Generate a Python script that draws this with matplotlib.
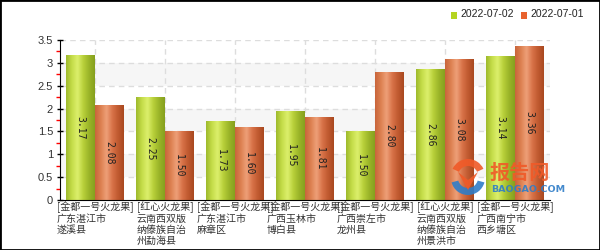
import matplotlib
matplotlib.use("Agg")
import matplotlib.pyplot as plt
import numpy as np
from matplotlib.colors import LinearSegmentedColormap
from matplotlib.patches import Rectangle, Wedge, Polygon

plt.rcParams['font.family'] = ['Noto Sans CJK SC', 'DejaVu Sans']

categories = [
    "[金都一号火龙果]\n广东湛江市\n遂溪县",
    "[红心火龙果]\n云南西双版\n纳傣族自治\n州勐海县",
    "[金都一号火龙果]\n广东湛江市\n麻章区",
    "[金都一号火龙果]\n广西玉林市\n博白县",
    "[金都一号火龙果]\n广西崇左市\n龙州县",
    "[红心火龙果]\n云南西双版\n纳傣族自治\n州景洪市",
    "[金都一号火龙果]\n广西南宁市\n西乡塘区",
]
series_names = ["2022-07-02", "2022-07-01"]
values_0702 = [3.17, 2.25, 1.73, 1.95, 1.50, 2.86, 3.14]
values_0701 = [2.08, 1.50, 1.60, 1.81, 2.80, 3.08, 3.36]
y_ticks = [0, 0.5, 1, 1.5, 2, 2.5, 3, 3.5]
y_tick_labels = ["0", "0.5", "1", "1.5", "2", "2.5", "3", "3.5"]

green_cmap = LinearSegmentedColormap.from_list(
    "g", ["#9db82c", "#c4dc48", "#dcef6c", "#b8d03a", "#9ab428", "#86a01e"])
orange_cmap = LinearSegmentedColormap.from_list(
    "o", ["#c8643a", "#dc8050", "#eea078", "#d87248", "#c05a30", "#a8481f"])

fig = plt.figure(figsize=(6, 2.5), dpi=100)
ax = fig.add_axes([0.1, 0.2, 0.8167, 0.64])

n = len(categories)
x = np.arange(n)
w = 0.41

ax.set_xlim(-0.5, n - 0.5)
ax.set_ylim(0, 3.5)

# alternating bands
for lo in [0.5, 1.5, 2.5]:
    ax.axhspan(lo, lo + 0.5, color="#f6f6f6", zorder=0, lw=0)
for yt in y_ticks[1:]:
    ax.axhline(yt, color="#dddddd", lw=1, ls=(0, (4, 3)), zorder=0.5)
for xi in x:
    ax.axvline(xi, color="#dddddd", lw=1, ls=(0, (4, 3)), zorder=0.5)

grad = np.linspace(0, 1, 256).reshape(1, -1)
for vals, off, cmap in [(values_0702, -w / 2, green_cmap), (values_0701, w / 2, orange_cmap)]:
    bars = ax.bar(x + off, vals, width=w, color="none", lw=0, zorder=2)
    for b, v in zip(bars, vals):
        x0 = b.get_x()
        im = ax.imshow(grad, extent=[x0, x0 + b.get_width(), 0, v], aspect="auto",
                       cmap=cmap, zorder=2, interpolation="bicubic")
        im.set_clip_path(b)
        ax.text(x0 + b.get_width() / 2, v / 2, f"{v:.2f}", rotation=270,
                ha="center", va="center", fontsize=7, color="#222222",
                family="DejaVu Sans Mono", zorder=3)

ax.set_xticks(x)
ax.set_xticklabels(categories, fontsize=7.2, color="#333333", linespacing=1.1,
                   ha="center", multialignment="left")
ax.tick_params(axis="x", length=0, pad=1)
ax.set_yticks(y_ticks)
ax.set_yticklabels(y_tick_labels, fontsize=8, color="#333333", family="Liberation Sans")
ax.tick_params(axis="y", direction="inout", length=4, width=1, color="black", pad=3)
ax.set_yticks(np.arange(0.25, 3.5, 0.5), minor=True)
ax.tick_params(axis="y", which="minor", direction="out", length=3, color="red", width=1)

for s in ["top", "right"]:
    ax.spines[s].set_visible(False)
ax.spines["left"].set_color("black")
ax.spines["bottom"].set_color("black")

# legend
fig.patches.append(Rectangle((451 / 600, 1 - 18.5 / 250), 6 / 600, 6 / 250, transform=fig.transFigure,
                             facecolor="#b5d421", edgecolor="none"))
fig.text(460 / 600, 1 - 14 / 250, series_names[0], fontsize=7.5, va="center", ha="left",
         family="Liberation Sans", color="#222222")
fig.patches.append(Rectangle((521 / 600, 1 - 18.5 / 250), 6 / 600, 6 / 250, transform=fig.transFigure,
                             facecolor="#e8622e", edgecolor="none"))
fig.text(530 / 600, 1 - 14 / 250, series_names[1], fontsize=7.5, va="center", ha="left",
         family="Liberation Sans", color="#222222")

# watermark
fig.text(520 / 600, 1 - 172 / 250, "报告网", fontsize=14.5, color="#f05a28", alpha=0.9, ha="center",
         va="center", weight="bold")
fig.text(528 / 600, 1 - 189 / 250, "BAOGAO.COM", fontsize=6.8, color="#2f7dc8", alpha=0.9, ha="center",
         va="center", family="DejaVu Sans", weight="bold")
cx, cy = 468 / 600, 1 - 178 / 250
fig.patches.append(Wedge((468, 250 - 176), 17, 25, 155, width=7, facecolor="#f05a28",
                         edgecolor="none", alpha=0.9, transform=None))
fig.patches.append(Wedge((468, 250 - 178), 17, 195, 345, width=7, facecolor="#2f7dc8",
                         edgecolor="none", alpha=0.9, transform=None))
fig.patches.append(Polygon([(458, 250 - 172), (468, 250 - 190), (478, 250 - 172), (468, 250 - 180)],
                           closed=True, facecolor="#f05a28", edgecolor="none", alpha=0.9, transform=None))

fig.patches.append(Rectangle((0, 0), 1, 1, transform=fig.transFigure, fill=False,
                             edgecolor="black", lw=2))

fig.savefig("out.png", dpi=100)
